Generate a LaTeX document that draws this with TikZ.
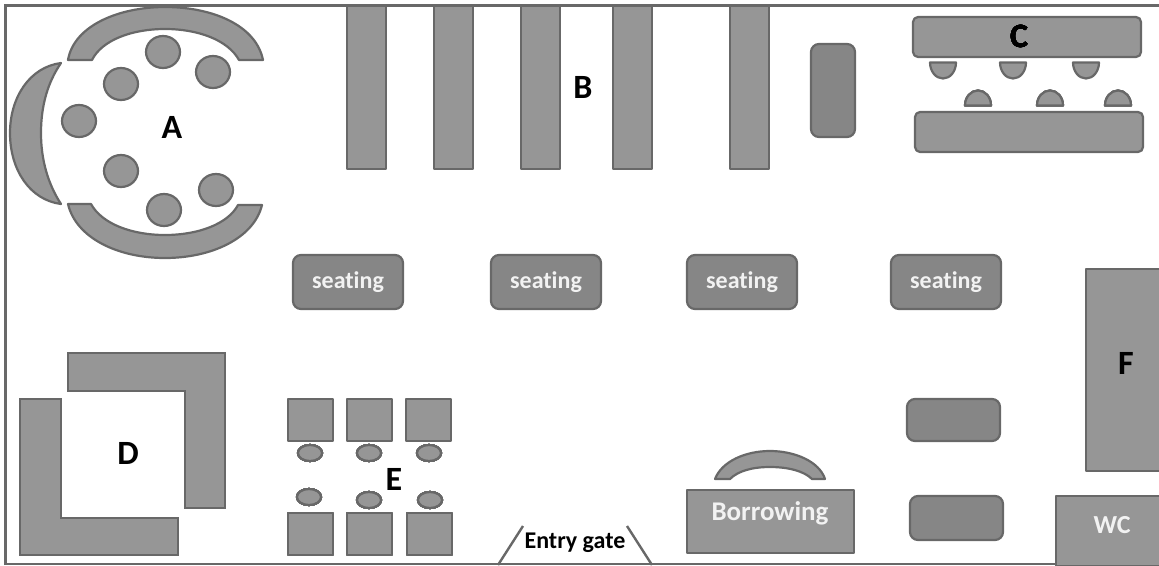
\documentclass[tikz,border=0pt]{standalone}
\usepackage{fontspec}
\setmainfont[Ligatures=NoCommon]{Carlito}
\definecolor{fillA}{HTML}{969696}
\definecolor{fillB}{HTML}{868686}
\definecolor{edge}{HTML}{686868}
\tikzset{
 sh/.style={draw=edge,fill=fillA,line width=2.2pt,line join=round},
 dk/.style={draw=edge,fill=fillB,line width=2.2pt,rounded corners=8pt},
 lt/.style={sh,rounded corners=5pt},
 lab/.style={font=\bfseries\fontsize{34}{34}\selectfont,text=black,inner sep=0pt},
 wlab/.style={font=\bfseries\fontsize{26}{26}\selectfont,text=white!95!black,inner sep=0pt},
 gate/.style={draw=edge,line width=2.4pt}
}
\newcommand{\sq}[2]{\draw[sh] (#1,#2) rectangle ++(45,42);}
\newcommand{\semiD}[1]{\draw[sh] (#1-13,62.5) -- (#1+13,62.5) arc[start angle=0,end angle=180,x radius=13,y radius=16] -- cycle;}
\newcommand{\semiU}[1]{\draw[sh] (#1-13,105.5) arc[start angle=180,end angle=360,x radius=13,y radius=15] -- cycle;}
\begin{document}
\begin{tikzpicture}[x=1pt,y=-1pt]
\useasboundingbox (0,0) rectangle (1159,565);
\fill[white] (0,0) rectangle (1159,565);
% frame
\draw[draw=edge,line width=2.4pt] (5.5,565) -- (5.5,5.5) -- (1159,5.5);
\draw[draw=edge,line width=1.8pt] (5.5,564) -- (1159,564);
% A
\draw[sh] (68,60) .. controls (74,25) and (120,7) .. (165,7) .. controls (212,7) and (256,25) .. (263,60) -- (239,60) .. controls (228,40) and (198,29) .. (165,29) .. controls (132,29) and (102,40) .. (92,60) -- cycle;
\draw[sh] (68,204) -- (91,204) .. controls (102,224) and (132,235) .. (165,235) .. controls (198,235) and (228,224) .. (238,205) -- (262,205) .. controls (254,238) and (212,258) .. (165,258) .. controls (118,258) and (76,238) .. (68,204) -- cycle;
\draw[sh] (61,63) .. controls (48,82) and (41,105) .. (41,133) .. controls (41,160) and (48,184) .. (61,204) .. controls (30,200) and (10,170) .. (10,133) .. controls (10,97) and (30,67) .. (61,63) -- cycle;
\foreach \p in {(163,52),(213,72),(121,84),(79,121),(121,171),(164,210),(216,190)}
  \draw[sh] \p circle[x radius=17,y radius=16];
\node[lab] (labA) at (172,127) {A};
% B
\foreach \x in {347,434,521,613,730}
  \draw[sh] (\x,6) rectangle ++(39,163);
\node[lab] (labB) at (583,87) {B};
\draw[dk] (811,44) rectangle (855,137);
% C
\draw[lt] (913,17) rectangle (1141,57);
\draw[lt] (915,112) rectangle (1143,152);
\foreach \x in {943,1013,1086} \semiD{\x}
\foreach \x in {978,1050,1118} \semiU{\x}
\node[lab] (labC) at (1019,36) {C};
% seating
\foreach \x/\n in {293/s1,491/s2,687/s3,891/s4}
  \node[dk,minimum width=110pt,minimum height=54pt,anchor=north west,inner sep=0pt,outer sep=0pt,font=\bfseries\fontsize{24}{24}\selectfont,text=white!95!black] (\n) at (\x,255) {seating};
% D
\draw[sh,line join=miter] (68,353) -- (225,353) -- (225,508) -- (185,508) -- (185,391) -- (68,391) -- cycle;
\draw[sh,line join=miter] (20,399) -- (61,399) -- (61,518) -- (178,518) -- (178,555) -- (20,555) -- cycle;
\node[lab] (labD) at (128,453) {D};
% E
\foreach \x in {288,347,406} \sq{\x}{399}
\foreach \x in {288,347,407} \sq{\x}{513}
\foreach \p in {(310,453),(369,453),(429,453),(309,497),(369,500),(430,500)}
  \draw[sh] \p circle[x radius=12,y radius=8];
\node[lab] (labE) at (394,479) {E};
% Entry gate
\coordinate (g1a) at (498,565); \coordinate (g1b) at (523,526);
\coordinate (g2a) at (652,565); \coordinate (g2b) at (627,526);
\draw[gate] (g1a) -- (g1b);
\draw[gate] (g2a) -- (g2b);
\node[inner sep=0pt,font=\bfseries\fontsize{24}{24}\selectfont] (gate) at (575,543) {Entry gate};
% Borrowing
\draw[sh] (715,479) .. controls (722,461) and (746,451) .. (770,451) .. controls (794,451) and (819,461) .. (825,479) -- (812,479) .. controls (804,471) and (788,467) .. (770,467) .. controls (752,467) and (738,471) .. (730,479) -- cycle;
\node[sh,anchor=north west,minimum width=167pt,minimum height=63pt,inner sep=0pt,outer sep=0pt] (bor) at (687,490) {};
\node[wlab,font=\bfseries\fontsize{27}{27}\selectfont] (borl) at (770,513) {Borrowing};
% right
\draw[dk] (907,399) rectangle (1000,441);
\draw[dk] (910,496) rectangle (1003,540);
\draw[sh] (1160,269) -- (1086,269) -- (1086,471) -- (1160,471);
\node[lab] (labF) at (1126,363) {F};
\draw[sh] (1160,496) -- (1056,496) -- (1056,566) -- (1160,566);
\node[wlab] (wc) at (1112,525) {WC};
\end{tikzpicture}
\end{document}
